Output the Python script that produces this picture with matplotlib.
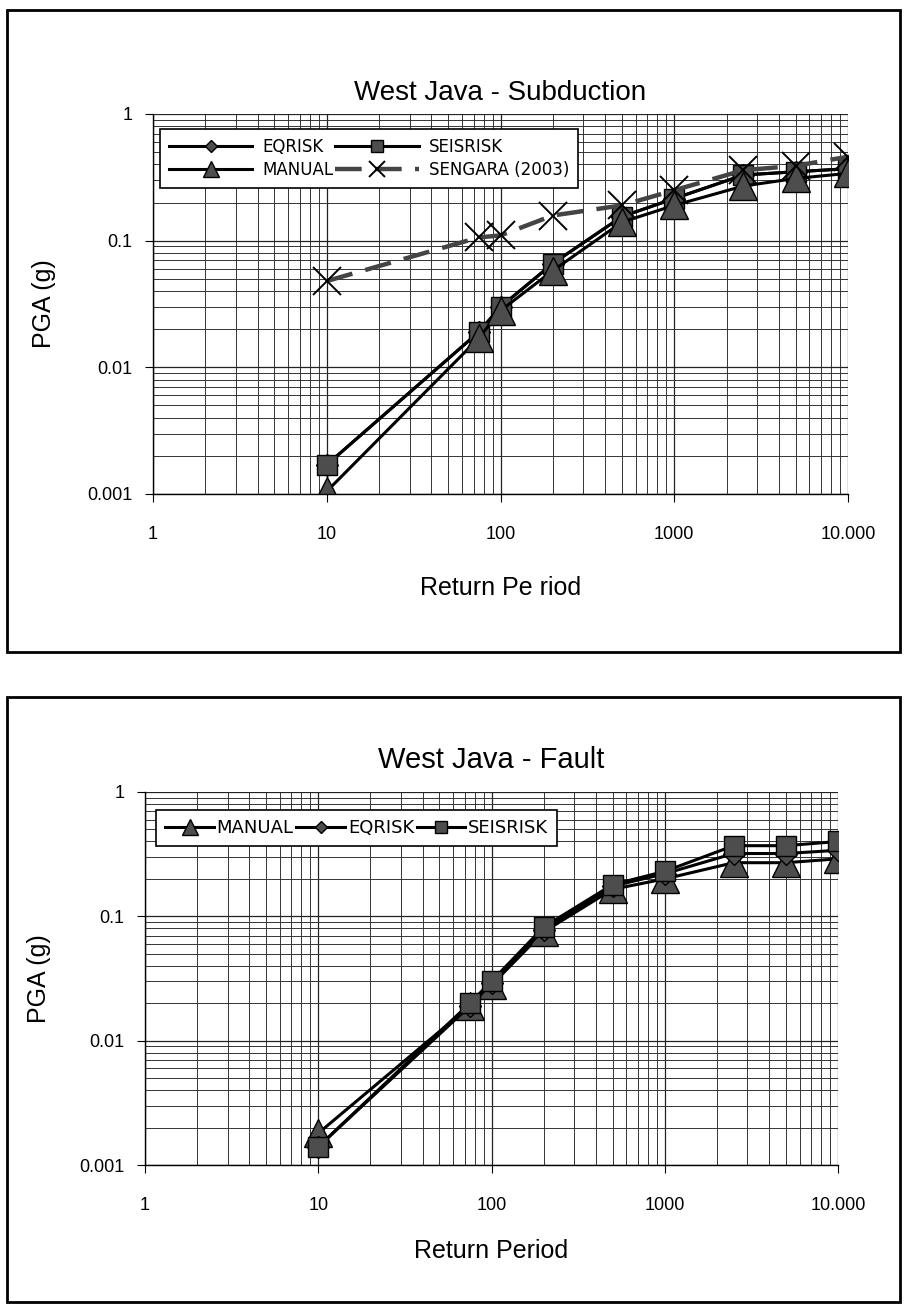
import matplotlib
matplotlib.use("Agg")
import matplotlib.pyplot as plt
from matplotlib.patches import Rectangle
from matplotlib.ticker import LogLocator, FixedLocator, FixedFormatter, NullFormatter

plt.rcParams['font.family'] = ['Liberation Sans', 'DejaVu Sans']

# ---- data ----
return_period = [10, 75, 100, 200, 500, 1000, 2500, 5000, 10000]

sub_eqrisk = [0.0017, 0.019, 0.030, 0.066, 0.155, 0.215, 0.33, 0.35, 0.37]
sub_seisrisk = [0.0017, 0.019, 0.030, 0.066, 0.155, 0.215, 0.33, 0.35, 0.37]
sub_manual = [0.00105, 0.017, 0.028, 0.058, 0.14, 0.19, 0.27, 0.31, 0.34]
sengara_x = [10, 75, 100, 200, 500, 1000, 2500, 5000, 10000]
sengara = [0.048, 0.106, 0.11, 0.158, 0.19, 0.25, 0.36, 0.39, 0.46]

flt_manual = [0.0018, 0.019, 0.028, 0.075, 0.165, 0.20, 0.27, 0.27, 0.29]
flt_eqrisk = [0.0014, 0.019, 0.029, 0.078, 0.175, 0.22, 0.32, 0.32, 0.34]
flt_seisrisk = [0.0014, 0.020, 0.030, 0.082, 0.18, 0.23, 0.37, 0.37, 0.40]

xtick_vals = [1, 10, 100, 1000, 10000]
xtick_labels = ['1', '10', '100', '1000', '10.000']
ytick_vals = [0.001, 0.01, 0.1, 1]
ytick_labels = ['0.001', '0.01', '0.1', '1']

W, H = 905, 1305
fig = plt.figure(figsize=(W / 100, H / 100), dpi=100)

def px_box(x0, y0, x1, y1):
    return [x0 / W, 1 - y1 / H, (x1 - x0) / W, (y1 - y0) / H]

# outer frames
for (x0, y0, x1, y1) in [(7, 10, 900, 652), (7, 697, 900, 1302)]:
    fig.add_artist(Rectangle((x0 / W, 1 - y1 / H), (x1 - x0) / W, (y1 - y0) / H,
                             transform=fig.transFigure, fill=False,
                             edgecolor='black', linewidth=2.0))

MK = dict(markeredgecolor='black', markerfacecolor='#4d4d4d', markeredgewidth=1.0)

def style_axes(ax):
    ax.set_xscale('log')
    ax.set_yscale('log')
    ax.set_xlim(1, 10000)
    ax.set_ylim(0.001, 1)
    ax.xaxis.set_major_locator(FixedLocator(xtick_vals))
    ax.xaxis.set_major_formatter(FixedFormatter(xtick_labels))
    ax.yaxis.set_major_locator(FixedLocator(ytick_vals))
    ax.yaxis.set_major_formatter(FixedFormatter(ytick_labels))
    ax.xaxis.set_minor_locator(LogLocator(base=10, subs=range(2, 10)))
    ax.yaxis.set_minor_locator(LogLocator(base=10, subs=range(2, 10)))
    ax.xaxis.set_minor_formatter(NullFormatter())
    ax.yaxis.set_minor_formatter(NullFormatter())
    ax.grid(True, which='major', color='#222222', linewidth=0.9)
    ax.grid(True, which='minor', color='#333333', linewidth=0.7)
    ax.tick_params(axis='x', which='major', labelsize=13, pad=17, length=6, direction='out')
    ax.tick_params(axis='y', which='major', labelsize=13, pad=9, length=6, direction='out')
    ax.tick_params(which='minor', length=0)
    for s in ax.spines.values():
        s.set_linewidth(1.0)
    ax.spines['top'].set_visible(False)
    ax.spines['right'].set_visible(False)

# ---- top: subduction ----
ax1 = fig.add_axes(px_box(153, 114, 848, 494))
style_axes(ax1)
h_eq, = ax1.plot(return_period, sub_eqrisk, color='black', lw=2.2, marker='D', markersize=11, label='EQRISK', **MK)
h_se, = ax1.plot(return_period, sub_seisrisk, color='black', lw=2.2, marker='s', markersize=14, label='SEISRISK', **MK)
h_ma, = ax1.plot(return_period, sub_manual, color='black', lw=2.2, marker='^', markersize=20, label='MANUAL', **MK)
h_sg, = ax1.plot(sengara_x, sengara, color='#444444', lw=3.2, dashes=(6, 3), marker='x',
                 markersize=20, markeredgewidth=1.4, markeredgecolor='black', label='SENGARA (2003)')
ax1.set_title('West Java - Subduction', fontsize=20, pad=10)
ax1.set_xlabel('Return Pe riod', fontsize=18, labelpad=24)
ax1.set_ylabel('PGA (g)', fontsize=18, labelpad=22)
leg1 = ax1.legend(handles=[h_eq, h_ma, h_se, h_sg], loc='upper left', ncol=2,
                  bbox_to_anchor=(-0.002, 0.983),
                  prop={'family': 'DejaVu Sans', 'size': 12}, handlelength=5.0,
                  columnspacing=0.1, handletextpad=0.6, borderpad=0.55, labelspacing=0.3,
                  frameon=True, fancybox=False, edgecolor='black', framealpha=1, markerscale=0.6)
leg1.get_frame().set_linewidth(1.2)

# ---- bottom: fault ----
ax2 = fig.add_axes(px_box(145, 792, 838, 1165))
style_axes(ax2)
ax2.plot(return_period, flt_manual, color='black', lw=2.2, marker='^', markersize=20, label='MANUAL', **MK)
ax2.plot(return_period, flt_eqrisk, color='black', lw=2.2, marker='D', markersize=11, label='EQRISK', **MK)
ax2.plot(return_period, flt_seisrisk, color='black', lw=2.2, marker='s', markersize=14, label='SEISRISK', **MK)
ax2.set_title('West Java - Fault', fontsize=21, pad=17)
ax2.set_xlabel('Return Period', fontsize=18, labelpad=18)
ax2.set_ylabel('PGA (g)', fontsize=18, labelpad=20)
leg2 = ax2.legend(loc='upper left', ncol=3, bbox_to_anchor=(0.003, 0.975),
                  prop={'family': 'DejaVu Sans', 'size': 13}, handlelength=2.7,
                  columnspacing=0.15, handletextpad=0.15, borderpad=0.5,
                  frameon=True, fancybox=False, edgecolor='black', framealpha=1, markerscale=0.6)
leg2.get_frame().set_linewidth(1.2)

fig.savefig('out.png', dpi=100)
